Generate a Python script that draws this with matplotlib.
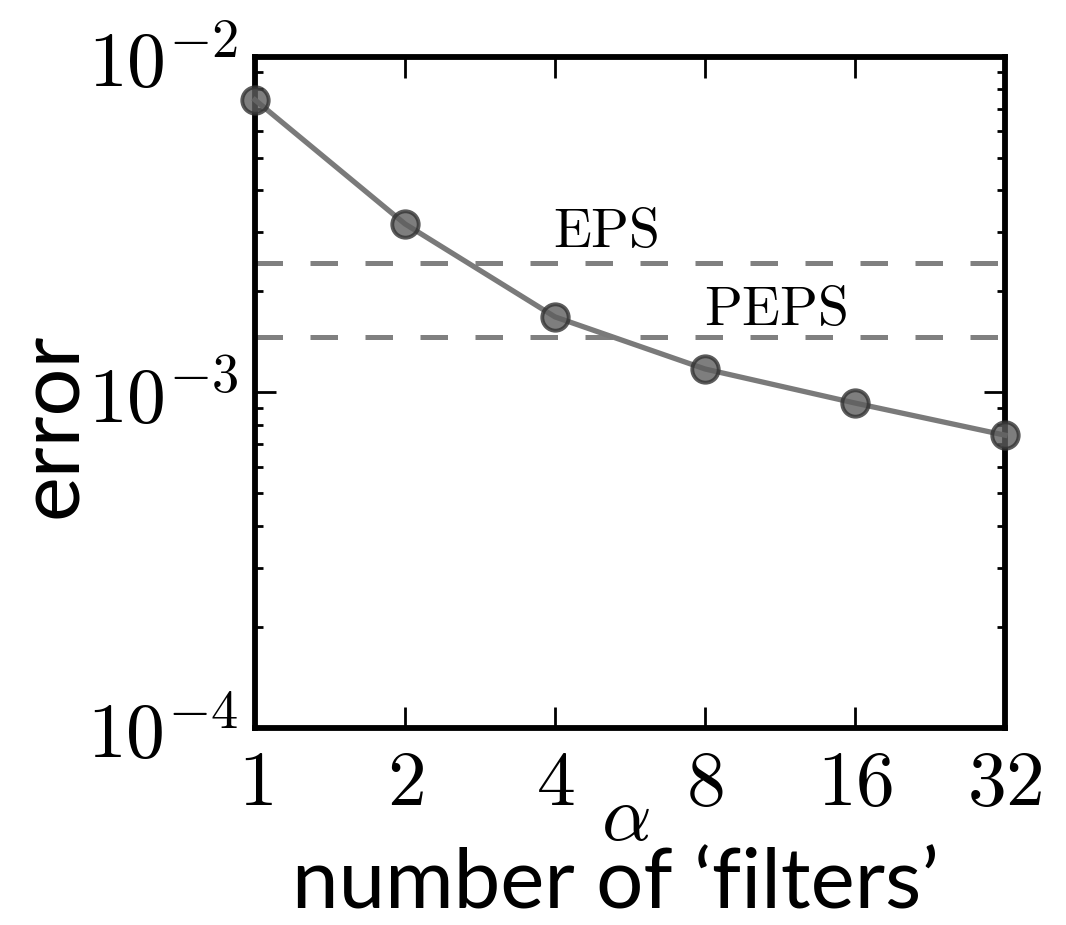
import matplotlib
matplotlib.use("Agg")
import matplotlib.pyplot as plt
from matplotlib.ticker import FixedLocator, FixedFormatter, LogLocator, NullFormatter, NullLocator

plt.rcParams['mathtext.fontset'] = 'cm'

# number of filters (alpha) and the resulting error
alpha = [1, 2, 4, 8, 16, 32]
error = [7.45e-3, 3.18e-3, 1.68e-3, 1.175e-3, 9.3e-4, 7.46e-4]

# reference levels
eps_level = 2.43e-3
peps_level = 1.46e-3

x_ticks = [1, 2, 4, 8, 16, 32]
x_tick_labels = ['$1$', '$2$', '$4$', '$8$', '$16$', '$32$']
y_ticks = [1e-4, 1e-3, 1e-2]
y_tick_labels = [r'$10^{-4}$', r'$10^{-3}$', r'$10^{-2}$']

fig = plt.figure(figsize=(10.66, 9.25), dpi=100)
ax = fig.add_axes([0.2392, 0.2130, 0.7036, 0.7254])

ax.set_xscale('log', base=2)
ax.set_yscale('log')
ax.set_xlim(1, 32)
ax.set_ylim(1e-4, 1e-2)

ax.axhline(eps_level, color='#808080', lw=3.6, dashes=(5.5, 5.5), zorder=2)
ax.axhline(peps_level, color='#808080', lw=3.6, dashes=(5.5, 5.5), zorder=2)

ax.plot(alpha, error, '-', color='#7a7a7a', lw=3.8, zorder=3, clip_on=False)
ax.plot(alpha, error, 'o', ms=19, mfc='#5e5e5e', mec='#333333', mew=2.8,
        alpha=0.8, zorder=4, clip_on=False)

ax.text(5.06, 3.0e-3, r'$\mathrm{EPS}$', fontsize=40, ha='center', va='center')
ax.text(11.06, 1.76e-3, r'$\mathrm{PEPS}$', fontsize=40, ha='center', va='center')

ax.xaxis.set_major_locator(FixedLocator(x_ticks))
ax.xaxis.set_major_formatter(FixedFormatter(x_tick_labels))
ax.xaxis.set_minor_locator(NullLocator())
ax.yaxis.set_major_locator(FixedLocator(y_ticks))
ax.yaxis.set_major_formatter(FixedFormatter(y_tick_labels))
ax.yaxis.set_minor_locator(LogLocator(base=10, subs=range(2, 10)))
ax.yaxis.set_minor_formatter(NullFormatter())

ax.tick_params(which='both', direction='in', top=True, right=True, color='black')
ax.tick_params(which='major', length=15, width=2, labelsize=56, pad=12)
ax.tick_params(which='minor', length=6, width=2)

for s in ax.spines.values():
    s.set_linewidth(4.2)

# axis symbol placed just under the tick labels
ax.text(0.494, -0.134, r'$\alpha$', fontsize=56, transform=ax.transAxes,
        ha='center', va='center')

fig.text(0.05, 0.54, 'error', fontsize=61, family='Lato', rotation=90,
         ha='center', va='center')
fig.text(0.577, 0.018, 'number of \u2018filters\u2019', fontsize=60, family='Lato',
         ha='center', va='baseline')

fig.savefig('out.png', dpi=100)
